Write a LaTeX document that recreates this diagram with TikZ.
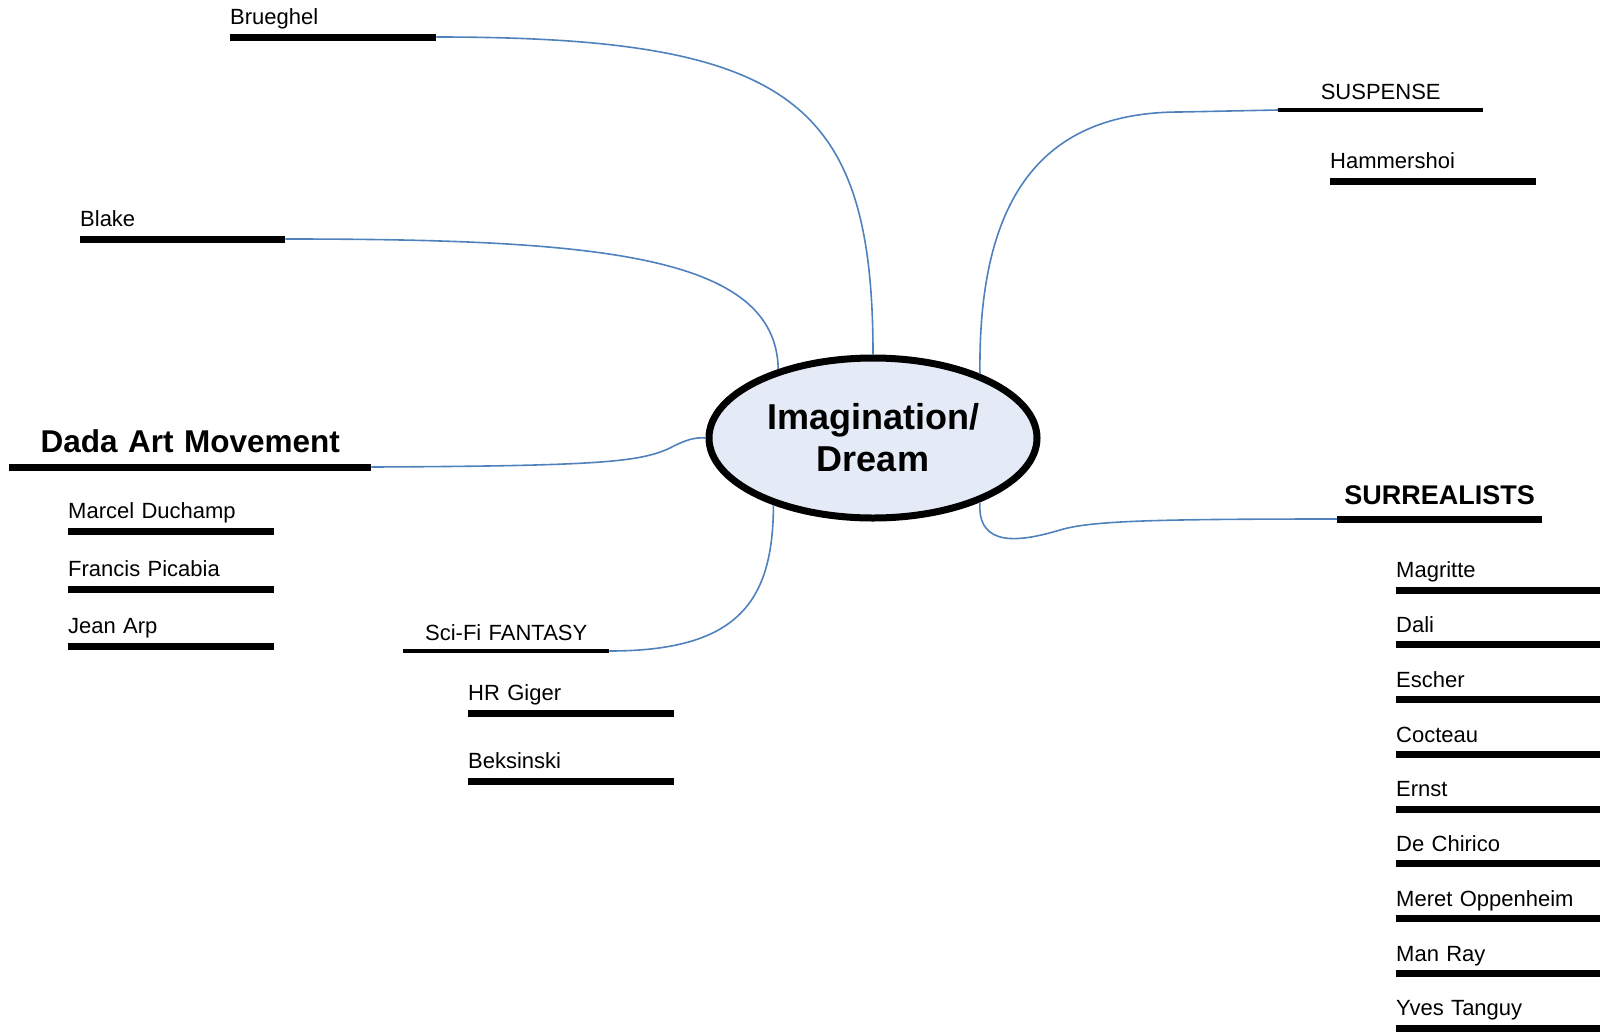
\documentclass[tikz,border=0pt]{standalone}
\usepackage{fontspec}
\setmainfont{Liberation Sans}
\usetikzlibrary{shapes.geometric, positioning}

\definecolor{linkblue}{RGB}{79,129,189}
\definecolor{dreamfill}{RGB}{228,235,246}
\newcommand{\leaffont}{\fontsize{22}{26}\selectfont}

\begin{document}
\begin{tikzpicture}[x=1pt, y=-1pt, node distance=54.75pt, on grid,
  heavy rule/.style={draw, line width=7pt},
  light rule/.style={draw, line width=4pt},
  link/.style={draw=linkblue, line width=1.6pt},
  name base/.style={inner xsep=0pt, inner ysep=0pt, anchor=south west, text height=16pt},
  leaf/.style={name base, font=\leaffont, text width=#1, align=left, text depth=12pt,
    append after command={(\tikzlastnode.south west) edge[heavy rule] (\tikzlastnode.south east)}},
  branch/.style={name base, font=\leaffont, text width=#1, align=center, text depth=10pt,
    append after command={(\tikzlastnode.south west) edge[light rule] (\tikzlastnode.south east)}},
  topic/.style={name base, text width=#1, align=center, text depth=14pt, text height=22pt,
    append after command={(\tikzlastnode.south west) edge[heavy rule] (\tikzlastnode.south east)}}]
  \useasboundingbox (0,0) rectangle (1600,1031);

  % centre
  \node[ellipse, draw, line width=7pt, fill=dreamfill, minimum width=328pt, minimum height=160pt,
        inner sep=0pt, align=center, font=\bfseries\fontsize{36}{42}\selectfont]
        (dream) at (873,438) {Imagination/\\Dream};

  % upper left
  \node[leaf=206pt] (brueghel) at (230,37) {Brueghel};
  \node[leaf=205pt] (blake) at (80,239) {Blake};

  % dada
  \node[topic=362pt, font=\bfseries\fontsize{31.5}{36}\selectfont] (dada) at (9,467) {Dada Art Movement};
  \node[leaf=206pt] (duchamp) at (68,531) {Marcel Duchamp};
  \node[leaf=206pt, below=58pt of duchamp] (picabia) {Francis Picabia};
  \node[leaf=206pt, below=57pt of picabia] (arp) {Jean Arp};

  % sci-fi
  \node[branch=206pt] (scifi) at (403,651) {Sci-Fi FANTASY};
  \node[leaf=206pt] (giger) at (468,713) {HR Giger};
  \node[leaf=206pt, below=68pt of giger] (beksinski) {Beksinski};

  % suspense
  \node[branch=205pt] (suspense) at (1278,110) {SUSPENSE};
  \node[leaf=206pt] (hammershoi) at (1330,181) {Hammershoi};

  % surrealists
  \node[topic=205pt, font=\bfseries\fontsize{27}{32}\selectfont] (surreal) at (1337,519) {SURREALISTS};
  \node[leaf=210pt] (magritte) at (1396,590) {Magritte};
  \node[leaf=210pt, below=of magritte] (dali) {Dali};
  \node[leaf=210pt, below=of dali] (escher) {Escher};
  \node[leaf=210pt, below=of escher] (cocteau) {Cocteau};
  \node[leaf=210pt, below=of cocteau] (ernst) {Ernst};
  \node[leaf=210pt, below=of ernst] (chirico) {De Chirico};
  \node[leaf=210pt, below=of chirico] (oppenheim) {Meret Oppenheim};
  \node[leaf=210pt, below=of oppenheim] (manray) {Man Ray};
  \node[leaf=210pt, below=of manray] (tanguy) {Yves Tanguy};

  % links
  \draw[link] (brueghel.south east) .. controls (790,37) and (873,100) .. (dream.north);
  \draw[link] (blake.south east) .. controls (600,239) and (776,255) .. (dream.144);
  \draw[link] (dada.south east) .. controls (600,466) and (640,462) .. (670,448)
    .. controls (685,440) and (695,437) .. (dream.west);
  \draw[link] (scifi.south east) .. controls (740,651) and (773,600) .. (dream.214);
  \draw[link] (suspense.south west) -- (1180,112) .. controls (1040,112) and (978,200) .. (dream.31);
  \draw[link] (surreal.south west) .. controls (1150,519) and (1090,521) .. (1060,530)
    .. controls (1020,542) and (977,548) .. (dream.329);
\end{tikzpicture}
\end{document}
